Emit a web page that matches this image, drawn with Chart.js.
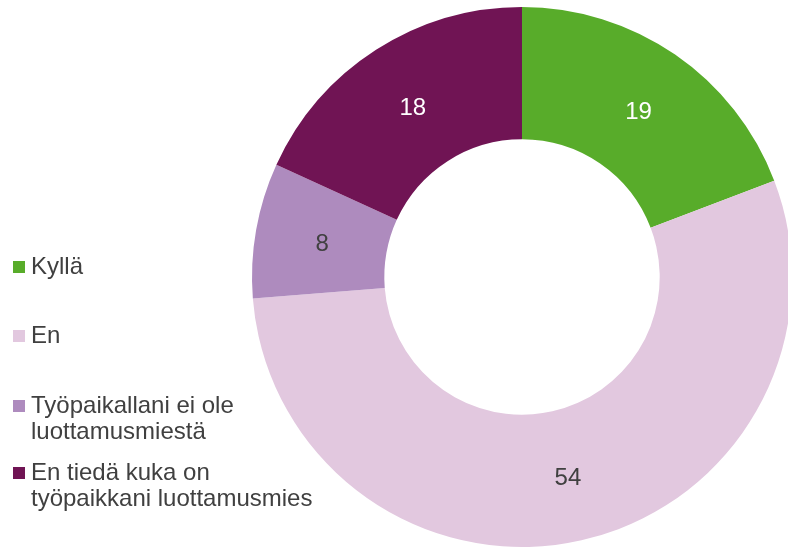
<!DOCTYPE html>
<html>
<head>
<meta charset="utf-8">
<script src="https://cdn.jsdelivr.net/npm/chart.js@4"></script>
<style>
  html, body { margin: 0; padding: 0; background: #fff; overflow: hidden; }
  #wrap { position: relative; width: 800px; height: 549px; }
</style>
</head>
<body>
<div id="wrap"><canvas id="donitsi"></canvas></div>
<script>
// vastaukset (%)
var vastaukset = [
    ["Kyllä"],
    ["En"],
    ["Työpaikallani ei ole", "luottamusmiestä"],
    ["En tiedä kuka on", "työpaikkani luottamusmies"]
];
var osuudet = [19, 54, 8, 18];
var varit = ['#58ac2a', '#e2c8df', '#ae8bbe', '#701454'];
var tekstivarit = ['#ffffff', '#404040', '#404040', '#ffffff'];

var fontti = '"Liberation Sans", Arial, sans-serif';

// arvot sektorien keskelle
var arvoPlugin = {
    id: 'arvot',
    afterDatasetsDraw: function (chart) {
        var ctx = chart.ctx;
        var meta = chart.getDatasetMeta(0);
        ctx.save();
        ctx.font = '24px ' + fontti;
        ctx.textAlign = 'center';
        ctx.textBaseline = 'middle';
        meta.data.forEach(function (arc, i) {
            var p = arc.tooltipPosition();
            ctx.fillStyle = tekstivarit[i];
            ctx.fillText(chart.data.datasets[0].data[i], p.x + 1, p.y + 3);
        });
        ctx.restore();
    }
};

// selite vasemmalle (peruslinjat)
var seliteY = [274, 343, 413, 480];
var seliteplugin = {
    id: 'selite',
    afterDraw: function (chart) {
        var ctx = chart.ctx;
        ctx.save();
        ctx.font = '24px ' + fontti;
        ctx.textBaseline = 'alphabetic';
        ctx.textAlign = 'left';
        chart.data.labels.forEach(function (rivit, i) {
            var y = seliteY[i];
            ctx.fillStyle = varit[i];
            ctx.fillRect(13, y - 13, 12, 12);
            ctx.fillStyle = '#404040';
            for (var r = 0; r < rivit.length; r++) {
                ctx.fillText(rivit[r], 31, y + r * 26);
            }
        });
        ctx.restore();
    }
};

var ctx = document.getElementById('donitsi').getContext('2d');
var kaavio = new Chart(ctx, {
    type: 'doughnut',
    data: {
        labels: vastaukset,
        datasets: [{
            data: osuudet,
            backgroundColor: varit,
            borderWidth: 0
        }]
    },
    options: {
        responsive: true,
        maintainAspectRatio: false,
        animation: false,
        cutout: '51%',
        layout: {
            padding: { left: 252, right: 8, top: 7, bottom: 2 }
        },
        plugins: {
            legend: { display: false },
            tooltip: { enabled: false }
        }
    },
    plugins: [arvoPlugin, seliteplugin]
});
</script>
</body>
</html>
